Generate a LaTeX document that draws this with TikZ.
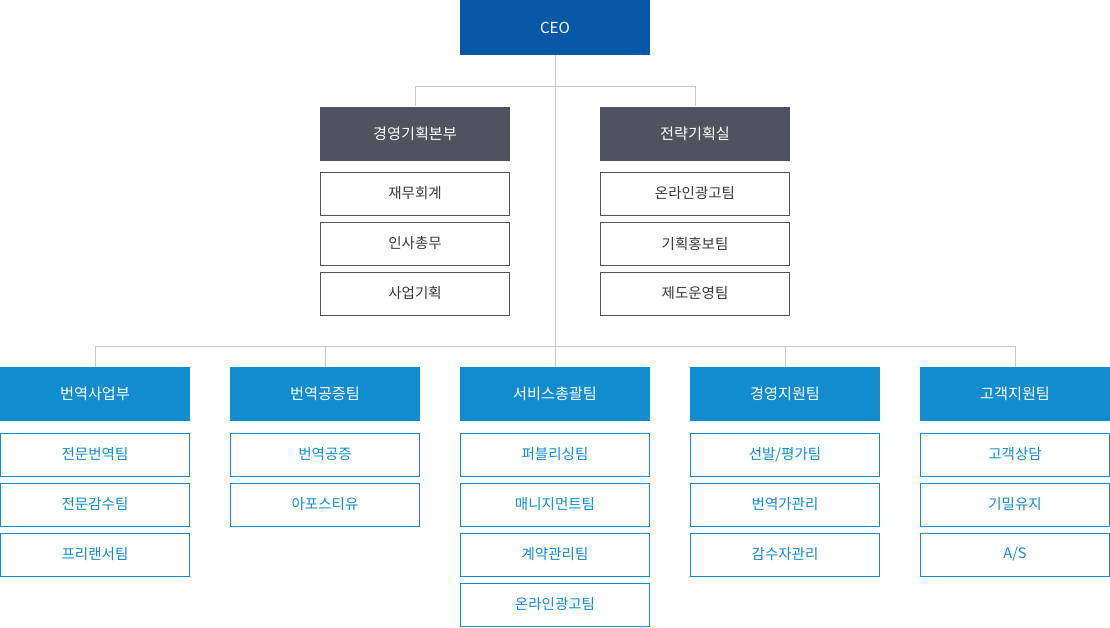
\documentclass[tikz,border=0pt]{standalone}
\usepackage{fontspec}
\setmainfont{Noto Sans CJK KR}
\definecolor{ceoblue}{HTML}{0757A7}
\definecolor{mgrgray}{HTML}{50525F}
\definecolor{teamblue}{HTML}{118CCF}
\definecolor{linegray}{HTML}{C8CAD2}
\definecolor{txtgray}{HTML}{3A3A3A}
\begin{document}
\begin{tikzpicture}[x=1pt,y=-1pt,
  box/.style={rectangle,inner sep=0pt,minimum width=190pt},
  headfont/.style={font=\fontsize{15.2}{17}\selectfont},
  subfont/.style={font=\fontsize{14.5}{16}\selectfont},
  ceobox/.style={box,headfont,fill=ceoblue,text=white,minimum height=55pt},
  mgrbox/.style={box,headfont,fill=mgrgray,text=white,minimum height=54pt},
  mgrsub/.style={box,subfont,draw=mgrgray,line width=1pt,fill=white,text=txtgray,minimum width=189pt,minimum height=43pt},
  teamhead/.style={box,headfont,fill=teamblue,text=white,minimum height=54pt},
  teamsub/.style={box,subfont,draw=teamblue,line width=1pt,fill=white,text=teamblue,minimum width=189pt,minimum height=43pt},
  conn/.style={draw=linegray,line width=1pt}]
\useasboundingbox (0,0) rectangle (1110,627);
\coordinate (j1) at (555,86.5);
\coordinate (j2) at (555,346.5);
\path (555,27.5) node[ceobox] (ceo) {CEO};
\path (415,133.5) node[mgrbox] (m1) {경영기획본부};
\path (695,133.5) node[mgrbox] (m2) {전략기획실};
\path (95,394) node[teamhead] (b1) {번역사업부};
\path (325,394) node[teamhead] (b2) {번역공증팀};
\path (555,394) node[teamhead] (b3) {서비스총괄팀};
\path (785,394) node[teamhead] (b4) {경영지원팀};
\path (1015,394) node[teamhead] (b5) {고객지원팀};
\draw[conn] (ceo.south) -- (b3.north);
\draw[conn] (m1.north) |- (j1) -| (m2.north);
\draw[conn] (b1.north) |- (j2) -| (b5.north);
\draw[conn] (b2.north) |- (j2);
\draw[conn] (b4.north) |- (j2);
% management subs
\node[mgrsub] (m1a) at (415,193.5) {재무회계};
\node[mgrsub] (m1b) at (415,243.5) {인사총무};
\node[mgrsub] (m1c) at (415,293.5) {사업기획};
\node[mgrsub] (m2a) at (695,193.5) {온라인광고팀};
\node[mgrsub] (m2b) at (695,243.5) {기획홍보팀};
\node[mgrsub] (m2c) at (695,293.5) {제도운영팀};
% team subs
\node[teamsub] (b1a) at (95,454.5) {전문번역팀};
\node[teamsub] (b1b) at (95,504.5) {전문감수팀};
\node[teamsub] (b1c) at (95,554.5) {프리랜서팀};
\node[teamsub] (b2a) at (325,454.5) {번역공증};
\node[teamsub] (b2b) at (325,504.5) {아포스티유};
\node[teamsub] (b3a) at (555,454.5) {퍼블리싱팀};
\node[teamsub] (b3b) at (555,504.5) {매니지먼트팀};
\node[teamsub] (b3c) at (555,554.5) {계약관리팀};
\node[teamsub] (b3d) at (555,604.5) {온라인광고팀};
\node[teamsub] (b4a) at (785,454.5) {선발/평가팀};
\node[teamsub] (b4b) at (785,504.5) {번역가관리};
\node[teamsub] (b4c) at (785,554.5) {감수자관리};
\node[teamsub] (b5a) at (1015,454.5) {고객상담};
\node[teamsub] (b5b) at (1015,504.5) {기밀유지};
\node[teamsub] (b5c) at (1015,554.5) {A/S};
\end{tikzpicture}
\end{document}
